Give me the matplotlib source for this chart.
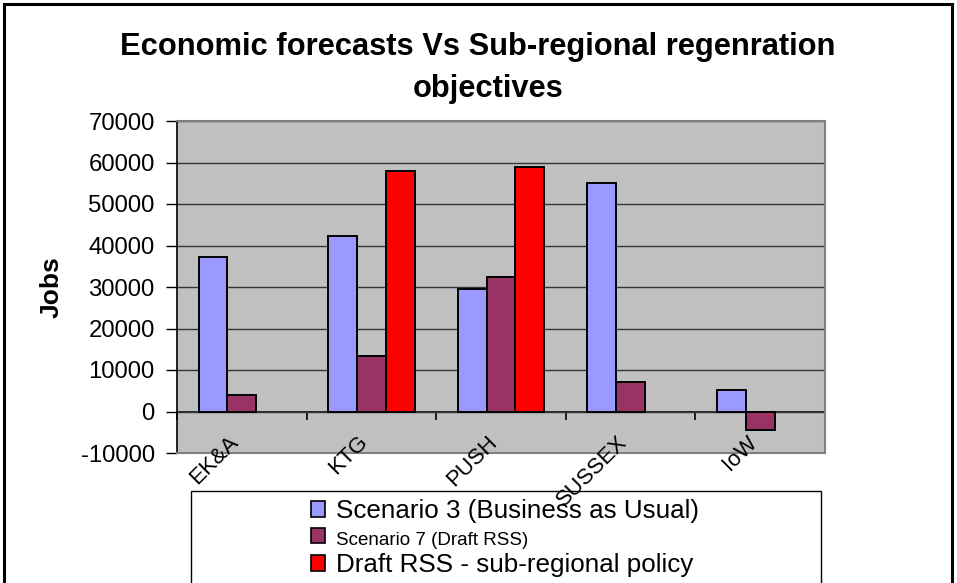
import matplotlib
matplotlib.use("Agg")
import matplotlib.pyplot as plt
from matplotlib.patches import Patch, Rectangle
import matplotlib.transforms as mtransforms
import numpy as np

plt.rcParams['font.family'] = ['Liberation Sans', 'DejaVu Sans']

categories = ["EK&A", "KTG", "PUSH", "SUSSEX", "IoW"]
series_names = ["Scenario 3 (Business as Usual)", "Scenario 7 (Draft RSS)",
                "Draft RSS - sub-regional policy"]
scenario3 = [37200, 42400, 29400, 55000, 5300]
scenario7 = [3900, 13400, 32300, 7200, -4400]
draft_rss = [0, 57900, 58900, 0, 0]
has_draft = [False, True, True, False, False]
colors = ["#9999FF", "#993366", "#FF0000"]
yticks = [-10000, 0, 10000, 20000, 30000, 40000, 50000, 60000, 70000]
title_lines = ["Economic forecasts Vs Sub-regional regenration", "objectives"]
ylabel = "Jobs"

W, H = 957, 583
fig = plt.figure(figsize=(W / 100, H / 100), dpi=100)
fig.patch.set_facecolor("white")

ax = fig.add_axes([177 / W, 1 - 453 / H, (825 - 177) / W, (453 - 121) / H])
ax.set_facecolor("#C0C0C0")

x = np.arange(len(categories))
w = 1 / 4.5
series = [scenario3, scenario7, draft_rss]
masks = [[True] * 5, [True] * 5, has_draft]
for j, (vals, col, m) in enumerate(zip(series, colors, masks)):
    xs = [xi + (j - 1) * w for xi, ok in zip(x, m) if ok]
    vs = [v for v, ok in zip(vals, m) if ok]
    ax.bar(xs, vs, width=w, color=col, edgecolor="black", linewidth=1.4, zorder=3)

ax.set_xlim(-0.5, len(categories) - 0.5)
ax.set_ylim(yticks[0], yticks[-1])
ax.set_yticks(yticks)
ax.set_yticklabels([str(t) for t in yticks], fontsize=17.2)
ax.tick_params(axis="y", direction="out", length=8, width=1, pad=8, color="black")
ax.yaxis.grid(True, color="#353535", linewidth=1.0, zorder=1)
ax.set_axisbelow(True)

for s in ["top", "right", "bottom"]:
    ax.spines[s].set_color("#808080")
    ax.spines[s].set_linewidth(1.5)
ax.spines["left"].set_color("black")
ax.spines["left"].set_linewidth(1.2)

# category labels, overlapping the bottom of the plot like the original
ax.set_xticks([])
lab_tr = ax.get_xaxis_transform() + mtransforms.ScaledTranslation(-0.14, 0.215,
                                                                  fig.dpi_scale_trans)
for xi, name in zip(x, categories):
    ax.text(xi, 0, name, transform=lab_tr, rotation=45, ha="right", va="top",
            rotation_mode="anchor", fontsize=16, zorder=5)

# zero axis with boundary ticks
loc0 = (0 - yticks[0]) / (yticks[-1] - yticks[0])
sec = ax.secondary_xaxis(loc0)
sec.set_xticks(np.arange(len(categories) + 1) - 0.5)
sec.set_xticklabels([])
sec.tick_params(direction="out", length=6, width=1.2, color="black")
sec.spines["bottom"].set_color("black")
sec.spines["bottom"].set_linewidth(1.2)

ax.set_ylabel(ylabel, fontsize=19, fontweight="bold", labelpad=12)

# title, two lines (baselines as in the original)
fig.text(478 / W, 1 - 55 / H, title_lines[0], ha="center", va="baseline",
         fontsize=22.2, fontweight="bold")
fig.text(488 / W, 1 - 97 / H, title_lines[1], ha="center", va="baseline",
         fontsize=22.2, fontweight="bold")

# legend
handles = [Patch(facecolor=c, edgecolor="black", linewidth=1.2) for c in colors]
leg = fig.legend(handles, series_names, loc="upper left",
                 bbox_to_anchor=(311 / W, 1 - 499 / H), frameon=False,
                 fontsize=18.7, handlelength=0.55, handleheight=0.55,
                 handletextpad=0.4, labelspacing=0.18, borderpad=0, borderaxespad=0)
leg.get_texts()[1].set_fontsize(13.5)

fig.add_artist(Rectangle((191 / W, -0.05), (821 - 191) / W, (583 - 491) / H + 0.05,
                         transform=fig.transFigure, fill=False, edgecolor="black",
                         linewidth=1.0))
fig.add_artist(Rectangle((4 / W, -0.05), (952 - 4) / W, 1 - 4 / H + 0.05,
                         transform=fig.transFigure, fill=False, edgecolor="black",
                         linewidth=2.2))

fig.savefig("out.png", dpi=100)
